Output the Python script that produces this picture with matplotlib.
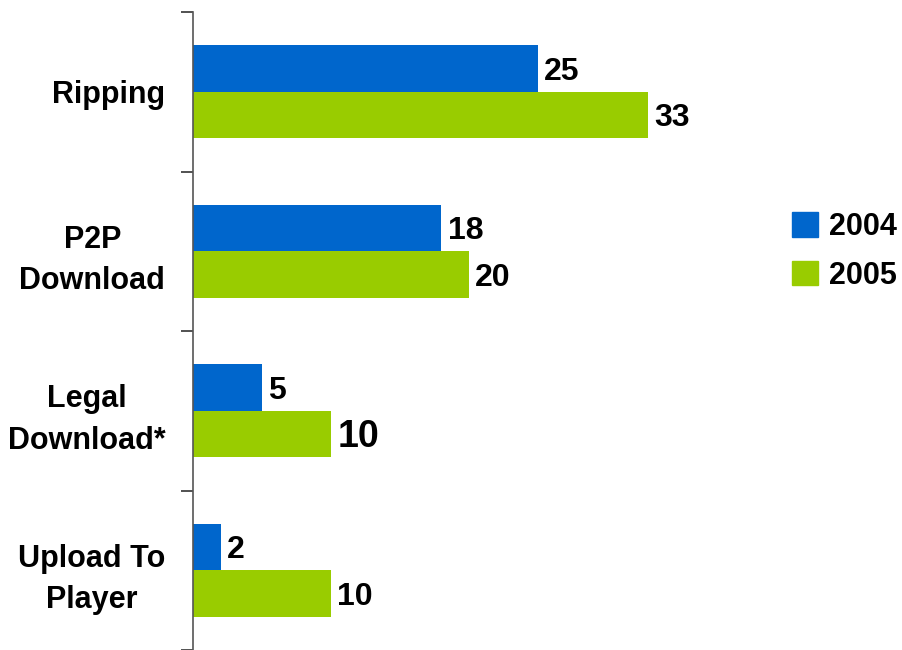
import numpy as np
import matplotlib.pyplot as plt
from matplotlib.patches import Patch

categories = ['Ripping', 'P2P\nDownload', 'Legal\nDownload*', 'Upload To\nPlayer']
years = ['2004', '2005']
values_2004 = [25, 18, 5, 2]
values_2005 = [33, 20, 10, 10]
label_sizes_2005 = [23, 23, 27, 23]

blue = '#0066cc'
green = '#99cc00'

plt.rcParams['font.family'] = ['Liberation Sans', 'DejaVu Sans']
plt.rcParams['font.weight'] = 'bold'

fig = plt.figure(figsize=(9.02, 6.5), dpi=100)
ax = fig.add_axes([193 / 902, 0.0, 552 / 902, 638 / 650])

y = np.arange(len(categories))
h = 0.29
bars1 = ax.barh(y - h / 2, values_2004, height=h, color=blue, label=years[0])
bars2 = ax.barh(y + h / 2, values_2005, height=h, color=green, label=years[1])

# value labels just past the end of each bar
for b, v in zip(bars1, values_2004):
    ax.text(b.get_width() + 0.45, b.get_y() + b.get_height() / 2 + 0.02, str(v),
            va='center', ha='left', fontsize=23, fontweight='bold')
for b, v, s in zip(bars2, values_2005, label_sizes_2005):
    ax.text(b.get_width() + 0.45, b.get_y() + b.get_height() / 2 + 0.02, str(v),
            va='center', ha='left', fontsize=s, fontweight='bold')

ax.set_ylim(len(categories) - 0.5, -0.5)
ax.set_xlim(0, 40)

ax.set_yticks(y)
ax.set_yticklabels(categories, fontsize=22, fontweight='bold', ha='right',
                   multialignment='center', linespacing=1.5)
ax.set_yticks(np.arange(-0.5, len(categories)), minor=True)
ax.tick_params(axis='y', which='major', length=0, pad=20)
ax.tick_params(axis='y', which='minor', length=9, width=1.2, color='#333333')
ax.set_xticks([])

for s in ['top', 'right', 'bottom']:
    ax.spines[s].set_visible(False)
ax.spines['left'].set_color('#555555')
ax.spines['left'].set_linewidth(1.2)

handles = [Patch(color=blue, label=years[0]), Patch(color=green, label=years[1])]
fig.legend(handles=handles, loc='upper left', bbox_to_anchor=(780 / 902, 1 - 200 / 650),
           frameon=False, handlelength=0.85, handleheight=0.85,
           handletextpad=0.35, labelspacing=0.6, borderaxespad=0,
           prop={'weight': 'bold', 'size': 22})

fig.savefig('out.png', dpi=100)
